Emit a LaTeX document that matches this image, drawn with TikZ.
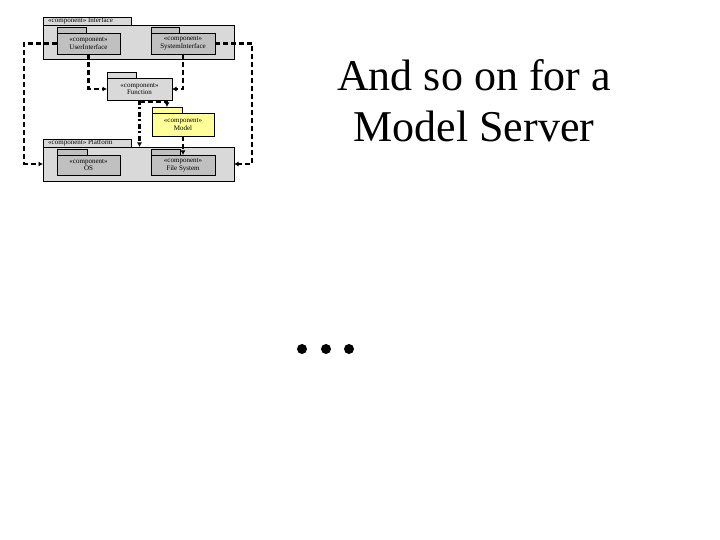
\documentclass[tikz,border=0pt]{standalone}
\usepackage{fontspec}
\setmainfont{Liberation Serif}
\usetikzlibrary{arrows.meta,positioning,calc}
\begin{document}
\begin{tikzpicture}[x=1pt,y=-1pt,
  box/.style={draw=black,line width=0.7pt,anchor=north west,inner sep=0pt,outer sep=0pt},
  outerpkg/.style={box,fill=pkggrey},
  innercomp/.style={box,fill=compgrey},
  tiny/.style={font=\fontsize{7}{7.6}\selectfont,align=center,inner sep=0pt},
  dep/.style={line width=2.4pt,dash pattern=on 5pt off 3pt,-{Latex[length=4.5pt,width=5pt]}},
  depdot/.style={line width=2.4pt,dash pattern=on 5pt off 2.5pt on 2pt off 2.5pt,-{Latex[length=4.5pt,width=5pt]}},
  bigtext/.style={font=\fontsize{44}{51}\selectfont,align=center,inner sep=0pt}
]
\definecolor{pkggrey}{HTML}{D9D9D9}
\definecolor{compgrey}{HTML}{C0C0C0}
\definecolor{modelyellow}{HTML}{FFFF99}
\useasboundingbox (0,0) rectangle (720,540);
\fill[white] (0,0) rectangle (720,540);

% Interface package
\node[outerpkg,minimum width=88,minimum height=8] (itab) at (43,17) {};
\node[tiny,anchor=west] (itabtxt) at (48,21.2) {«component» Interface};
\node[outerpkg,minimum width=191,minimum height=34] (iface) at (43,25) {};
% UserInterface
\node[innercomp,minimum width=29,minimum height=6] (uitab) at (57,27) {};
\node[innercomp,minimum width=63,minimum height=21] (ui) at (57,33) {};
\node[tiny] (uitxt) at (ui.center) {«component»\\UserInterface};
% SystemInterface
\node[innercomp,minimum width=28,minimum height=6] (sitab) at (151,27) {};
\node[innercomp,minimum width=64,minimum height=21] (si) at (151,33) {};
\node[tiny] (sitxt) at (si.center) {«component»\\SystemInterface};

% Function
\node[outerpkg,minimum width=29,minimum height=6] (ftab) at (107,72) {};
\node[outerpkg,minimum width=65,minimum height=22] (func) at (107,78) {};
\node[tiny] (ftxt) at (func.center) {«component»\\Function};

% Model
\node[box,fill=modelyellow,minimum width=30,minimum height=6] (mtab) at (152,107) {};
\node[box,fill=modelyellow,minimum width=62,minimum height=23] (model) at (152,113) {};
\node[tiny] (mtxt) at (model.center) {«component»\\Model};

% Platform package
\node[outerpkg,minimum width=88,minimum height=8] (ptab) at (43,139) {};
\node[tiny,anchor=west] (ptabtxt) at (48,143.2) {«component» Platform};
\node[outerpkg,minimum width=191,minimum height=34] (platform) at (43,147) {};
% OS
\node[innercomp,minimum width=30,minimum height=6] (ostab) at (57,149) {};
\node[innercomp,minimum width=63,minimum height=20] (os) at (57,155) {};
\node[tiny] (ostxt) at (os.center) {«component»\\OS};
% File System
\node[innercomp,minimum width=29,minimum height=6] (fstab) at (151,149) {};
\node[innercomp,minimum width=64,minimum height=20] (fs) at (151,155) {};
\node[tiny] (fstxt) at (fs.center) {«component»\\File System};

% routing coordinates
\coordinate (lx) at (24,0);
\coordinate (rx) at (252,0);

% connectors
\draw[dep] (ui.west) -- (ui.west -| lx) |- (platform.west);
\draw[dep] (si.east) -- (si.east -| rx) |- (platform.east);
\draw[dep] (ui.south) |- (func.west);
\draw[dep] (si.south) |- (func.east);
\draw[depdot] (func.south) -- (func.south |- platform.north);
\draw[dep] ($(func.south)+(0,2)$) -| (mtab.north);
\draw[dep] (model.south) -- (model.south |- fs.north);

% text
\node[bigtext] (title) at (474,101) {And so on for a\\Model Server};

% ellipsis dots
\fill (302,349) circle (5) coordinate (d1);
\fill (326,349) circle (5) coordinate (d2);
\fill (349,349) circle (5) coordinate (d3);
\end{tikzpicture}
\end{document}
